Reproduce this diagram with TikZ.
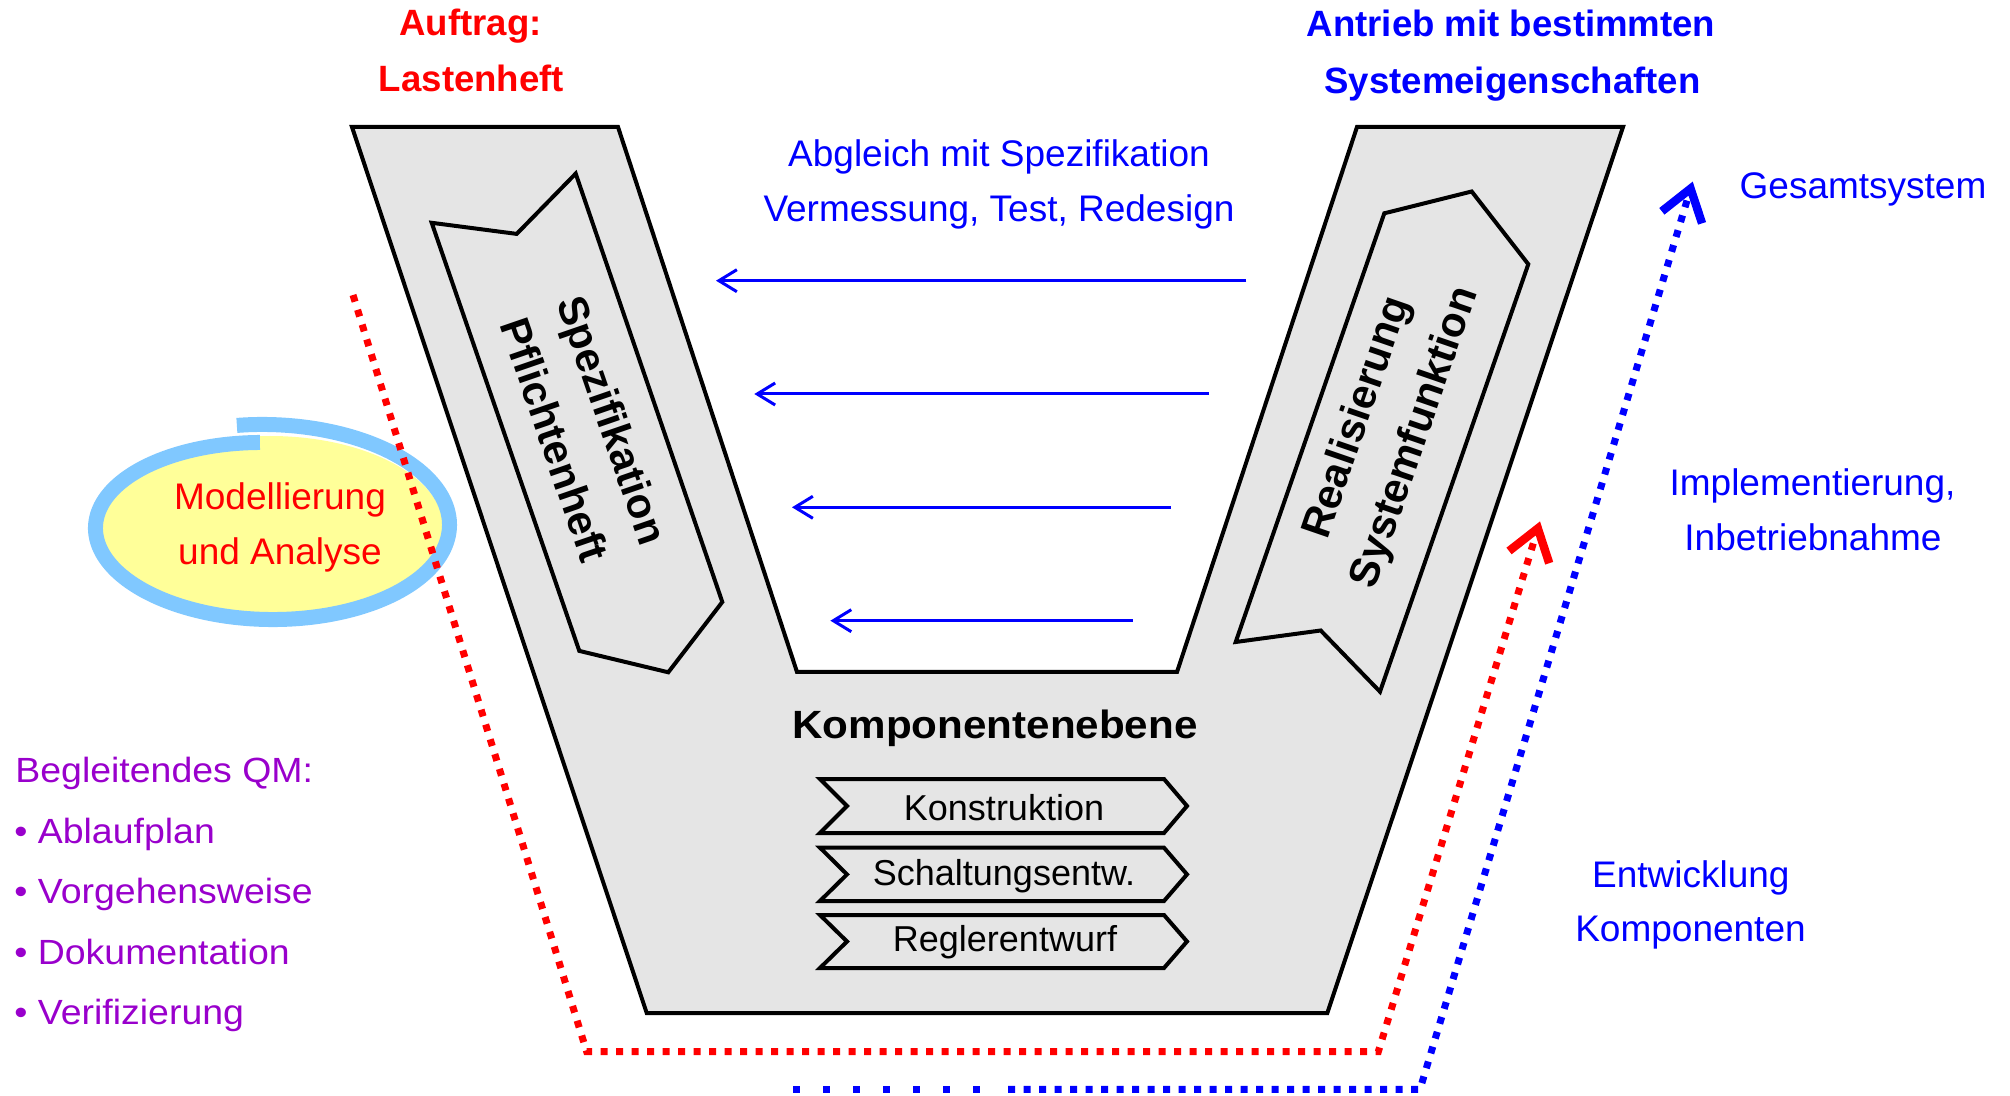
\documentclass[tikz,border=0pt]{standalone}
\usepackage{fontspec}
\setmainfont{Liberation Sans}
\newfontfamily\wfont[FakeStretch=1.07]{Liberation Sans}
\usetikzlibrary{arrows.meta}
\definecolor{vgray}{RGB}{229,229,229}
\definecolor{qmpurple}{RGB}{153,0,204}
\definecolor{ellblue}{RGB}{128,200,255}
\definecolor{ellyellow}{RGB}{255,255,153}
\begin{document}
\begin{tikzpicture}[x=0.5pt,y=-0.5pt,
  outline/.style={draw=black, line width=2pt, fill=vgray, line join=miter},
  chev/.style={draw=black, line width=2pt, fill=vgray, line join=miter},
  tb/.style={inner sep=0pt, anchor=base, font=\fontsize{18.3}{22}\selectfont\bfseries},
  tr/.style={inner sep=0pt, anchor=base, font=\fontsize{18.5}{22}\selectfont},
  qm/.style={inner sep=0pt, anchor=base west, text=qmpurple, font=\fontsize{17.5}{22}\selectfont\wfont},
  rot/.style={inner sep=0pt, align=center, font=\fontsize{21}{30.5}\selectfont\bfseries},
  comp/.style={inner sep=0pt, anchor=base, font=\fontsize{18}{22}\selectfont},
  fb/.style={draw=blue, line width=1.5pt, -{Straight Barb[length=9pt,width=11pt]}},
  reddots/.style={draw=red, line width=3.5pt, dash pattern=on 3.5pt off 4.25pt, -{Straight Barb[length=15pt,width=21pt,line width=4.2pt]}},
  bluedots/.style={draw=blue, line width=3.5pt, dash pattern=on 3.5pt off 4.25pt, -{Straight Barb[length=15pt,width=21pt,line width=4.2pt]}},
  bluesparse/.style={draw=blue, line width=3.5pt, dash pattern=on 3.5pt off 11.5pt},
]
\useasboundingbox (0,0) rectangle (2010,1096);

% V shape
\path[outline] (352,127) -- (618,127) -- (797,672) -- (1177,672) -- (1357,127)
  -- (1623,127) -- (1327.3,1013) -- (646.7,1013) -- cycle;

% left chevron
\draw[chev] (431.7,222.8) -- (516.7,233.9) -- (575.7,173.6) -- (722.3,602)
  -- (668.3,672.3) -- (579.3,650.9) -- cycle;
\node[rot, rotate=-71] (spez) at (584,430) {Spezifikation\\Pflichtenheft};

% right chevron
\draw[chev] (1235.7,642) -- (1320.7,630.5) -- (1380,691.7) -- (1528.3,264.2)
  -- (1471.7,191.5) -- (1384.3,213.3) -- cycle;
\node[rot, rotate=71] (real) at (1387,428) {Realisierung\\Systemfunktion};

% component level
\node[inner sep=0pt, anchor=base, font=\fontsize{19.7}{22}\selectfont\bfseries\wfont] (kebene) at (995,738.3) {Komponentenebene};
\draw[chev] (820,779) -- (1164,779) -- (1187,806) -- (1164,833) -- (820,833) -- (847,806) -- cycle;
\draw[chev] (820,847.7) -- (1164,847.7) -- (1187,874.4) -- (1164,901) -- (820,901) -- (847,874.4) -- cycle;
\draw[chev] (820,915) -- (1164,915) -- (1187,941.5) -- (1164,968) -- (820,968) -- (847,941.5) -- cycle;
\node[comp] (konst) at (1004,820) {Konstruktion};
\node[comp] (schalt) at (1004,885) {Schaltungsentw.};
\node[comp] (regler) at (1005,951.7) {Reglerentwurf};

% titles
\node[tb, text=red] (auf1) at (470.5,36) {Auftrag:};
\node[tb, text=red] (auf2) at (471.5,91.7) {Lastenheft};
\node[tb, text=blue] (ant1) at (1511,36.7) {Antrieb mit bestimmten};
\node[tb, text=blue] (ant2) at (1512.5,93.3) {Systemeigenschaften};

% feedback arrows
\node[tr, text=blue] (abg1) at (999,167) {Abgleich mit Spezifikation};
\node[tr, text=blue] (abg2) at (999,222) {Vermessung, Test, Redesign};
\coordinate (fa1) at (1246.4,280.7); \coordinate (fe1) at (716,280.7);
\coordinate (fa2) at (1209,394);     \coordinate (fe2) at (754.3,394);
\coordinate (fa3) at (1170.7,507.3); \coordinate (fe3) at (792,507.3);
\coordinate (fa4) at (1132.9,620.7); \coordinate (fe4) at (830.4,620.7);
\draw[fb] (fa1) -- (fe1);
\draw[fb] (fa2) -- (fe2);
\draw[fb] (fa3) -- (fe3);
\draw[fb] (fa4) -- (fe4);

% ellipse
\fill[ellyellow] (270,529) ellipse [x radius=174, y radius=93];
\draw[ellblue, line width=7.5pt] plot[domain=92.6:459.4, samples=120, smooth]
  ({267.5+(167+20*(\x-90)/360)*cos(\x)}, {526.5-(84+18*(\x-90)/360)*sin(\x)});
\node[tr, text=red] (mod1) at (280,510) {Modellierung};
\node[tr, text=red] (mod2) at (280,565) {und Analyse};

% dotted paths
\coordinate (rs) at (353,295);
\coordinate (rc1) at (586.7,1051.7);
\coordinate (rc2) at (1378.3,1051.7);
\coordinate (re) at (1540,521.4);
\draw[reddots] (rs) -- (rc1) -- (rc2) -- (re);
\coordinate (bs0) at (793,1089.3);
\coordinate (bs1) at (985,1089.3);
\coordinate (bs) at (1008,1089.3);
\coordinate (bc) at (1420,1089.3);
\coordinate (be) at (1692.7,181.6);
\draw[bluesparse] (bs0) -- (bs1);
\draw[bluedots] (bs) -- (bc) -- (be);

% right labels
\node[tr, text=blue] (ges) at (1863,198.5) {Gesamtsystem};
\node[tr, text=blue] (imp1) at (1812.5,496) {Implementierung,};
\node[tr, text=blue] (imp2) at (1813,550.5) {Inbetriebnahme};
\node[tr, text=blue] (ent1) at (1690.8,887) {Entwicklung};
\node[tr, text=blue] (ent2) at (1690.5,941) {Komponenten};

% QM list
\node[qm] (qm0) at (15,783) {Begleitendes QM:};
\node[qm] (qm1) at (14,843) {• Ablaufplan};
\node[qm] (qm2) at (14,903.5) {• Vorgehensweise};
\node[qm] (qm3) at (14,964) {• Dokumentation};
\node[qm] (qm4) at (14,1024.5) {• Verifizierung};
\end{tikzpicture}
\end{document}
